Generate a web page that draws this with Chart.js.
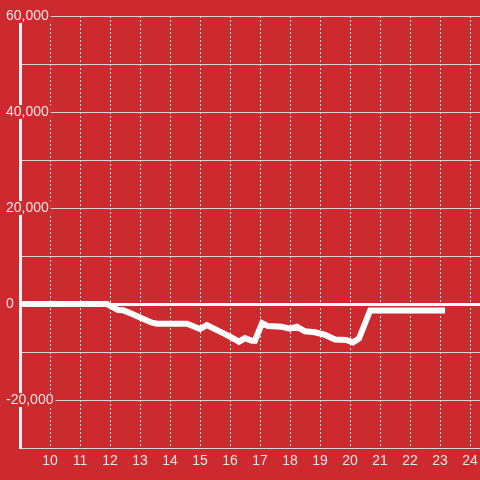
<!DOCTYPE html>
<html><head><meta charset="utf-8">
<script src="https://cdn.jsdelivr.net/npm/chart.js@4"></script>
<style>html,body{margin:0;padding:0;background:#cc2a2f}#wrap{width:480px;height:480px;position:relative}</style>
</head><body><div id="wrap"><canvas id="c" width="480" height="480"></canvas></div>
<script>
const hours = [9, 11.9, 12.27, 12.43, 12.67, 13.0, 13.4, 13.57, 14.57, 15.0, 15.23, 16.0, 16.3, 16.5, 16.73, 16.83, 17.07, 17.27, 17.73, 18.0, 18.23, 18.5, 18.83, 19.17, 19.5, 19.87, 20.1, 20.3, 20.67, 23.17];
const balance = [0, 0, -1250, -1300, -1900, -2800, -3900, -4100, -4100, -5200, -4400, -6800, -7850, -7100, -7650, -7650, -4000, -4600, -4750, -5150, -4750, -5700, -5900, -6450, -7400, -7500, -8000, -7200, -1350, -1350];
const xTickValues = [10, 11, 12, 13, 14, 15, 16, 17, 18, 19, 20, 21, 22, 23, 24];
const yTickValues = [-30000, -20000, -10000, 0, 10000, 20000, 30000, 40000, 50000, 60000];
const yLabelValues = [-20000, 0, 20000, 40000, 60000];

const BG = '#cc2a2f';
const TXT = '#f3e3e3';
const points = hours.map((h, i) => ({x: h, y: balance[i]}));

new Chart(document.getElementById('c'), {
  type: 'line',
  data: { datasets: [{
    data: points,
    borderColor: '#ffffff',
    borderWidth: 6,
    pointRadius: 0,
    tension: 0,
    fill: false
  }]},
  options: {
    responsive: false,
    animation: false,
    layout: { padding: { left: 20, top: 16, right: 0, bottom: 0 } },
    plugins: { legend: { display: false }, tooltip: { enabled: false } },
    scales: {
      x: {
        type: 'linear',
        min: 9,
        max: 24.333,
        afterBuildTicks: s => { s.ticks = xTickValues.map(v => ({value: v})); },
        afterFit: s => { s.height = 32; s.paddingLeft = 0; s.paddingRight = 0; },
        grid: { color: 'rgba(255,236,236,0.9)', lineWidth: 1, drawTicks: false },
        border: { display: false, dash: [2, 2] },
        ticks: { color: TXT, padding: 5, font: { family: 'Liberation Sans, Arial, sans-serif', size: 14 }, maxRotation: 0,
          callback: v => String(v) }
      },
      y: {
        type: 'linear',
        min: -30000,
        max: 60000,
        afterBuildTicks: s => { s.ticks = yTickValues.map(v => ({value: v})); },
        afterFit: s => { s.width = 0; },
        grid: {
          color: c => (c.tick && c.tick.value === 0) ? '#ffffff' : '#d6d6d6',
          lineWidth: c => (c.tick && c.tick.value === 0) ? 3 : 1,
          drawTicks: false
        },
        border: { display: true, color: '#f4f4f4', width: 3 },
        ticks: {
          color: TXT,
          mirror: true,
          padding: -14,
          font: { family: 'Liberation Sans, Arial, sans-serif', size: 14, lineHeight: 0.85 },
          showLabelBackdrop: true,
          backdropColor: c => (c.tick && yLabelValues.includes(c.tick.value)) ? BG : 'rgba(0,0,0,0)',
          backdropPadding: { x: 2, y: 1 },
          callback: v => yLabelValues.includes(v) ? v.toLocaleString('en-US') : ''
        }
      }
    }
  }
});
</script>
</body></html>
